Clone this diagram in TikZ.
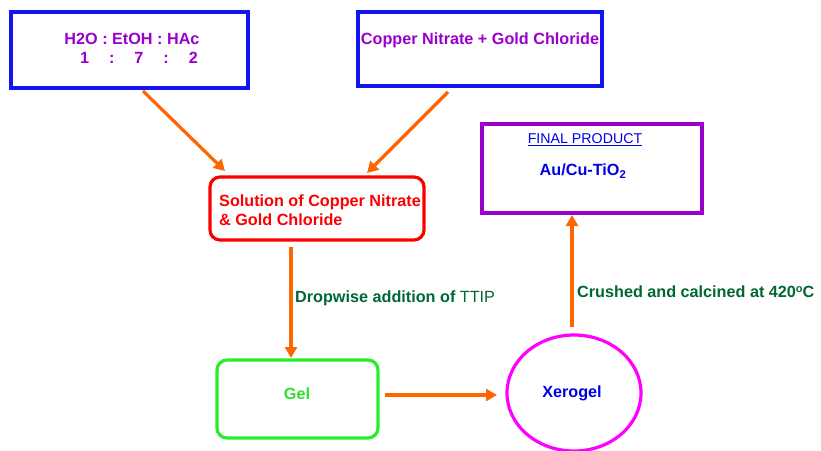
\documentclass[tikz,border=0pt]{standalone}
\usepackage{fontspec}
\setmainfont{Liberation Sans}
\usetikzlibrary{arrows.meta,shapes.geometric}
\definecolor{bbox}{RGB}{20,20,240}
\definecolor{purp}{RGB}{153,0,204}
\definecolor{redc}{RGB}{250,0,0}
\definecolor{orng}{RGB}{255,102,0}
\definecolor{dgreen}{RGB}{0,102,51}
\definecolor{gelgreen}{RGB}{40,240,40}
\definecolor{geltext}{RGB}{50,220,50}
\definecolor{magc}{RGB}{255,0,255}
\definecolor{bluet}{RGB}{0,0,230}
\tikzset{
  box/.style={draw, line width=3.2pt, inner sep=0pt, outer sep=0pt},
  txt/.style={font=\fontsize{16.2}{19}\selectfont\bfseries, inner sep=0pt},
  arr/.style={draw=orng, line width=3.2pt, -{Triangle[width=12pt,length=11pt]}},
}
\begin{document}
\begin{tikzpicture}[x=1pt,y=-1pt]
\useasboundingbox (0,0) rectangle (821,450);
% boxes
\node[box, draw=bbox, minimum width=237pt, minimum height=76pt] (b1) at (129.5,50) {};
\node[box, draw=bbox, minimum width=244pt, minimum height=74pt] (b2) at (480,49) {};
\node[box, draw=redc, rounded corners=10pt, minimum width=214pt, minimum height=63pt] (sol) at (317,208.5) {};
\node[box, draw=purp, minimum width=220pt, minimum height=89pt] (fin) at (592,168.5) {};
\node[box, draw=gelgreen, rounded corners=10pt, minimum width=161pt, minimum height=78pt] (gel) at (297.5,399) {};
\node[draw=magc, line width=3.2pt, outer sep=0pt, ellipse, minimum width=134pt, minimum height=116pt, inner sep=0pt] (xero) at (574,393) {};
% texts
\node[txt, text=purp] (t1a) at (132,39) {H2O : EtOH : HAc};
\node[txt, text=purp] (t1b) at (139,58) {1\hspace{20pt}:\hspace{20pt}7\hspace{20pt}:\hspace{20pt}2};
\node[txt, text=purp] (t2) at (480,40) {Copper Nitrate + Gold Chloride};
\node[txt, text=redc, align=left, anchor=west] (tsol) at (219,210) {Solution of Copper Nitrate\\[0pt]\& Gold Chloride};
\node[inner sep=0pt, text=bluet, font=\fontsize{14.2}{16}\selectfont] (tfin) at (585,140) {\underline{FINAL PRODUCT}};
\node[txt, text=bluet] (tau) at (583,171) {Au/Cu-TiO$_\mathbf{2}$};
\node[txt, text=geltext] (tgel) at (297,394) {Gel};
\node[txt, text=bluet] (txero) at (572,393) {Xerogel};
% arrows
\draw[arr] ([xshift=132pt,yshift=-3pt]b1.south west) -- ([xshift=15pt,yshift=6pt]sol.north west);
\draw[arr] ([xshift=90pt,yshift=-6pt]b2.south west) -- ([xshift=157pt,yshift=4pt]sol.north west);
\draw[arr] ([xshift=81pt,yshift=-7pt]sol.south west) -- ([xshift=74pt,yshift=2pt]gel.north west);
\draw[arr] ([xshift=7pt,yshift=4pt]gel.east) -- ([xshift=-10pt,yshift=-2pt]xero.west);
\draw[arr] ([xshift=-2pt,yshift=8pt]xero.north) -- ([xshift=90pt,yshift=-2pt]fin.south west);
% arrow labels
\node[txt, text=dgreen, anchor=west] (l1) at (295,298) {Dropwise addition of \mdseries TTIP};
\node[txt, text=dgreen, anchor=west] (l2) at (577,292) {Crushed and calcined at 420{\fontsize{11}{12}\selectfont\raisebox{5pt}{o}}C};
\end{tikzpicture}
\end{document}
